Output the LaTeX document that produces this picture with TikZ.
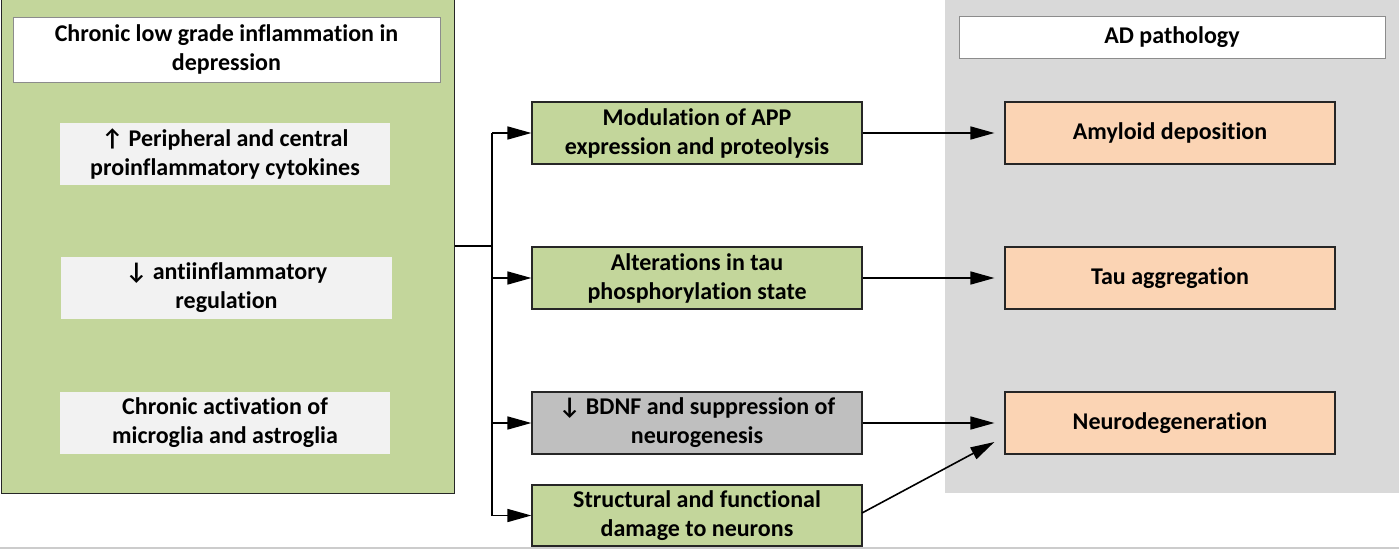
\documentclass[tikz,border=0pt]{standalone}
\usepackage{fontspec}
\setmainfont{Carlito}[Ligatures=NoCommon]
\usetikzlibrary{arrows.meta}
\definecolor{pgreen}{HTML}{C3D69B}
\definecolor{pgray}{HTML}{D9D9D9}
\definecolor{porange}{HTML}{FBD4B4}
\definecolor{pmid}{HTML}{BFBFBF}
\definecolor{pwhite}{HTML}{F2F2F2}
\tikzset{
  x=1pt, y=-1pt,
  txt/.style={font=\bfseries\fontsize{24}{29}\selectfont, align=center, inner sep=0pt},
  midbox/.style={txt, draw=black!85, line width=1.2pt, fill=pgreen, minimum width=330pt, minimum height=62pt},
  adbox/.style={txt, draw=black!85, line width=1.2pt, fill=porange, minimum width=330pt, minimum height=62pt},
  innerbox/.style={txt, fill=pwhite, minimum width=330pt, minimum height=62pt},
  headbox/.style={txt, draw=black!45, line width=1pt, fill=white},
  link/.style={line width=1.6pt, -{Triangle[length=24pt,width=13pt]}},
}
\begin{document}
\begin{tikzpicture}
\useasboundingbox (0,0) rectangle (1399,549);
% panels
\node[draw=black!85, line width=1.2pt, fill=pgreen, minimum width=453pt, minimum height=499pt, inner sep=0pt, anchor=north west] (left) at (0.6,-6) {};
\fill[pgray] (945,-2) rectangle (1399,493);
\fill[black!20] (0,546.5) rectangle (1399,549);
% headings
\node[headbox, minimum width=427pt, minimum height=65pt] (lhead) at (226.5,49.5) {Chronic low grade inflammation in\\depression};
\node[headbox, minimum width=426pt, minimum height=42pt] (rhead) at (1172,37) {AD pathology};
% inner boxes
\node[innerbox] (c1) at (225,154) {↑ Peripheral and central\\proinflammatory cytokines};
\node[innerbox, minimum width=331pt] (c2) at (226.5,288) {↓ antiinflammatory\\regulation};
\node[innerbox] (c3) at (225,423) {Chronic activation of\\microglia and astroglia};
% middle boxes
\node[midbox] (m1) at (697,133) {Modulation of APP\\expression and proteolysis};
\node[midbox] (m2) at (697,278) {Alterations in tau\\phosphorylation state};
\node[midbox, fill=pmid] (m3) at (697,423) {↓ BDNF and suppression of\\neurogenesis};
\node[midbox, minimum height=61pt] (m4) at (697,515.5) {Structural and functional\\damage to neurons};
% AD boxes
\node[adbox] (a1) at (1170,133) {Amyloid deposition};
\node[adbox] (a2) at (1170,278) {Tau aggregation};
\node[adbox] (a3) at (1170,423) {Neurodegeneration};
% branching connector
\coordinate (j) at (492,246);
\coordinate (jt) at (492,133);
\coordinate (jb) at (492,515.5);
\draw[line width=2.4pt] (left.east |- j) -- (j);
\draw[line width=1.6pt] (jt) -- (jb);
\draw[link] (jt) -- (m1.west);
\draw[link] (j |- m2.west) -- (m2.west);
\draw[link] (j |- m3.west) -- (m3.west);
\draw[link] (jb) -- (m4.west);
% to AD pathology
\draw[link] (m1.east) -- ([xshift=-10pt]a1.west);
\draw[link] (m2.east) -- ([xshift=-10pt]a2.west);
\draw[link] (m3.east) -- ([xshift=-10pt]a3.west);
\coordinate (s4) at (862,513);
\draw[link] (s4) -- ([xshift=-10pt,yshift=-19pt]a3.west);
\end{tikzpicture}
\end{document}
